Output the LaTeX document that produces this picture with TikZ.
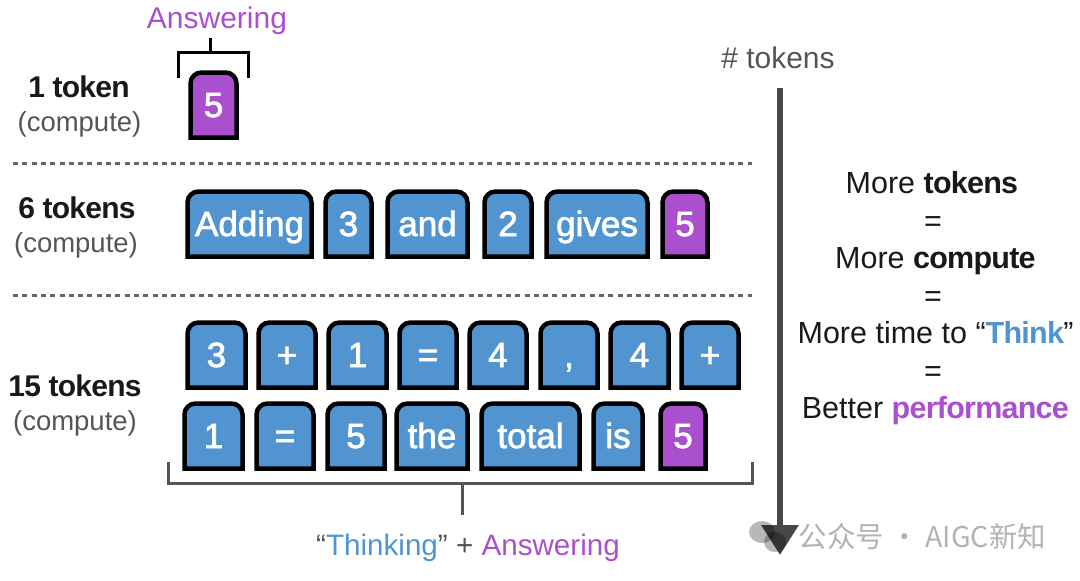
\documentclass[tikz,border=0pt]{standalone}
\usepackage{fontspec}
\setmainfont[BoldFeatures={LetterSpace=-2.5}]{Liberation Sans}
\newfontfamily\tokenfont[FakeBold=2]{Liberation Sans}
\newfontfamily\cjkfont{Noto Sans CJK SC}
\usetikzlibrary{arrows.meta, positioning}
\definecolor{tokenblue}{HTML}{5294CF}
\definecolor{tokenpurple}{HTML}{AA4FCD}
\definecolor{labelgray}{HTML}{555555}
\tikzset{
    tokenline/.style={draw=black, line width=4.5pt, line join=miter},
    tokentext/.style={text=white, font=\tokenfont\fontsize{35}{36}\selectfont, inner sep=0pt, anchor=base},
    rowhead/.style={font=\bfseries\fontsize{30}{34}\selectfont, text=black!90, inner sep=0pt, anchor=base},
    rowsub/.style={font=\fontsize{27.5}{32}\selectfont, text=labelgray, inner sep=0pt, anchor=base},
    sumline/.style={font=\fontsize{30.5}{34}\selectfont, text=black!90, inner sep=0pt, anchor=base},
    rowsplit/.style={draw=black!60, line width=3pt, dash pattern=on 5pt off 4.3pt},
    bracketline/.style={line width=3pt},
}
% x0, x1, top, bottom, colour, name, text
\newcommand{\tokenbox}[7]{
    \draw[tokenline, fill=#5] (#1,#4) [rounded corners=11pt] -- (#1,#3) -- (#2,#3) [sharp corners] -- (#2,#4) -- cycle;
    \node[tokentext] (#6) at ({(#1+#2)/2},{(#3+#4)/2+12}) {#7};
}
\begin{document}
\begin{tikzpicture}[x=1pt, y=-1pt]
    \useasboundingbox (0,0) rectangle (1080,581);

    % rows on the left
    \node[rowhead] (one) at (79,97) {1 token};
    \node[rowsub] (onesub) at (79.5,131) {(compute)};
    \node[rowhead] (six) at (77,218) {6 tokens};
    \node[rowsub] (sixsub) at (76,252) {(compute)};
    \node[rowhead] (fifteen) at (75,396) {15 tokens};
    \node[rowsub] (fifteensub) at (75,430) {(compute)};

    \coordinate (splitaw) at (13,163);
    \coordinate (splitae) at (752,163);
    \coordinate (splitbw) at (13,295);
    \coordinate (splitbe) at (752,295);
    \draw[rowsplit] (splitaw) -- (splitae);
    \draw[rowsplit] (splitbw) -- (splitbe);

    % tokens
    \tokenbox{190.5}{236.5}{72.5}{137.5}{tokenpurple}{answerone}{5}
    \foreach \xa/\xb/\col/\nm/\word in {187.5/311.5/tokenblue/adding/Adding, 325.5/371.5/tokenblue/three/3, 387.5/467.5/tokenblue/and/and, 484.5/531.5/tokenblue/two/2, 546.5/647.5/tokenblue/gives/gives, 662.5/707.5/tokenpurple/answersix/5}
        {\tokenbox{\xa}{\xb}{191.5}{256.5}{\col}{\nm}{\word}}
    \foreach \xa/\xb/\nm/\word in {187.5/245.5/ra/3, 258.5/315.5/rb/+, 328.5/386.5/rc/1, 399.5/456.5/rd/=, 469.5/526.5/re/4, 540.5/597.5/rf/{,}, 610.5/668.5/rg/4, 681.5/738.5/rh/+}
        {\tokenbox{\xa}{\xb}{322.5}{387.5}{tokenblue}{\nm}{\word}}
    \foreach \xa/\xb/\col/\nm/\word in {184.5/242.5/tokenblue/sa/1, 256.5/313.5/tokenblue/sb/=, 327.5/384.5/tokenblue/sc/5, 396.5/467.5/tokenblue/sd/the, 481.5/579.5/tokenblue/se/total, 593.5/642.5/tokenblue/sf/is, 660.5/705.5/tokenpurple/answerfifteen/5}
        {\tokenbox{\xa}{\xb}{403.5}{468.5}{\col}{\nm}{\word}}

    % brackets
    \node[font=\fontsize{30}{34}\selectfont, text=tokenpurple, inner sep=0pt, anchor=base] (answering) at (217,28) {Answering};
    \coordinate (topstem) at (210.5,37.5);
    \coordinate (topmid) at (210.5,52.5);
    \coordinate (topleft) at (178.5,78);
    \coordinate (topright) at (248.5,78);
    \draw[bracketline] (topleft) |- (topmid) -| (topright);
    \draw[bracketline] (topmid) -- (topstem);

    \coordinate (lowleft) at (168.5,462);
    \coordinate (lowright) at (752,462);
    \coordinate (lowmid) at (462,483.5);
    \coordinate (lowstem) at (462,515);
    \draw[bracketline, labelgray] (lowleft) |- (lowmid) -| (lowright);
    \draw[bracketline, labelgray] (lowmid) -- (lowstem);
    \node[font=\fontsize{29.6}{34}\selectfont, text=labelgray, inner sep=0pt, anchor=base] (caption) at (468,555.5)
        {“\textcolor{tokenblue}{Thinking}” + \textcolor{tokenpurple}{Answering}};

    % axis on the right
    \node[font=\fontsize{30}{34}\selectfont, text=labelgray, inner sep=0pt, anchor=base] (axislabel) at (778,68.5) {\# tokens};
    \coordinate (axistop) at (780,88);
    \coordinate (axisend) at (780,555);
    \draw[-{Triangle[length=30pt,width=36pt]}, draw=black!72, fill=black!72, line width=6.5pt] (axistop) -- (axisend);

    \node[sumline] (suma) at (931.5,193.5) {More \textbf{tokens}};
    \node[sumline] (eqa) at (933,231) {=};
    \node[sumline] (sumb) at (935,268.5) {More \textbf{compute}};
    \node[sumline] (eqb) at (933,306) {=};
    \node[sumline] (sumc) at (935.5,343.5) {More time to “\textcolor{tokenblue}{\textbf{Think}}”};
    \node[sumline] (eqc) at (933,381) {=};
    \node[sumline] (sumd) at (935,418.5) {Better \textcolor{tokenpurple}{\textbf{performance}}};

    % watermark
    \fill[black, opacity=.28] (762,532) ellipse (13pt and 11pt);
    \fill[black, opacity=.28] (775,542) ellipse (11pt and 10pt);
    \node[font=\cjkfont\fontsize{28.5}{32}\selectfont, text=black, text opacity=.3, inner sep=0pt] (mark) at (922.5,537) {公众号 · AIGC新知};
\end{tikzpicture}
\end{document}
